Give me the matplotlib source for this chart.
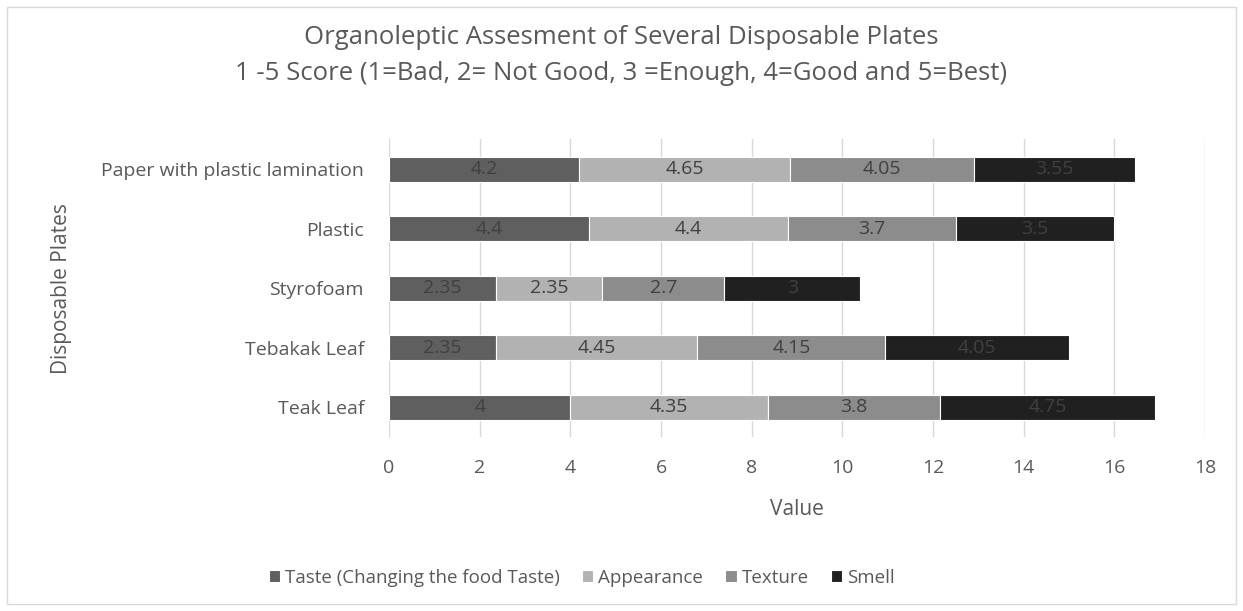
import matplotlib
matplotlib.use("Agg")
import matplotlib.pyplot as plt
from matplotlib.patches import Rectangle

categories = ["Teak Leaf", "Tebakak Leaf", "Styrofoam", "Plastic", "Paper with plastic lamination"]
series_names = ["Taste (Changing the food Taste)", "Appearance", "Texture", "Smell"]
taste = [4, 2.35, 2.35, 4.4, 4.2]
appearance = [4.35, 4.45, 2.35, 4.4, 4.65]
texture = [3.8, 4.15, 2.7, 3.7, 4.05]
smell = [4.75, 4.05, 3, 3.5, 3.55]
label_texts = {
    0: ["4", "2.35", "2.35", "4.4", "4.2"],
    1: ["4.35", "4.45", "2.35", "4.4", "4.65"],
    2: ["3.8", "4.15", "2.7", "3.7", "4.05"],
    3: ["4.75", "4.05", "3", "3.5", "3.55"],
}
colors = ["#5f5f5f", "#b2b2b2", "#8c8c8c", "#202020"]

plt.rcParams['font.family'] = ['Open Sans', 'DejaVu Sans']
fig = plt.figure(figsize=(12.43, 6.11), dpi=100)
ax = fig.add_axes([0.313, 0.2848, 0.6564, 0.4869])

series = [taste, appearance, texture, smell]
y = list(range(len(categories)))
left = [0.0] * len(categories)
for i, vals in enumerate(series):
    bars = ax.barh(y, vals, left=left, height=0.42, color=colors[i],
                   edgecolor="white", linewidth=0.8, label=series_names[i], zorder=3)
    for j, b in enumerate(bars):
        ax.text(left[j] + vals[j] / 2, y[j], label_texts[i][j], ha="center", va="center",
                fontsize=14, color="#404040", zorder=4)
    left = [l + v for l, v in zip(left, vals)]

ax.set_xlim(0, 18)
ax.set_ylim(-0.5, len(categories) - 0.5)
ax.set_xticks(range(0, 19, 2))
ax.set_yticks(y)
ax.set_yticklabels(categories)
ax.tick_params(axis="both", length=0, labelsize=14, labelcolor="#595959")
ax.tick_params(axis="x", pad=16)
ax.tick_params(axis="y", pad=18)
ax.grid(axis="x", color="#d9d9d9", linewidth=1, zorder=0)
for s in ax.spines.values():
    s.set_visible(False)

ax.set_xlabel("Value", fontsize=15, color="#595959")
ax.xaxis.set_label_coords(0.5, -0.208)
ax.set_ylabel("Disposable Plates", fontsize=15, color="#595959")
ax.yaxis.set_label_coords(-0.388, 0.5)

fig.text(0.5, 0.9394, "Organoleptic Assesment of Several Disposable Plates", ha="center", va="center",
         fontsize=18.5, color="#595959")
fig.text(0.5, 0.879, "1 -5 Score (1=Bad, 2= Not Good, 3 =Enough, 4=Good and 5=Best)", ha="center", va="center",
         fontsize=18.5, color="#595959")

handles, labels = ax.get_legend_handles_labels()
leg = fig.legend(handles, labels, loc="center", bbox_to_anchor=(0.468, 0.054), ncol=4, frameon=False,
                 fontsize=13.5, handlelength=0.6, handleheight=0.6, handletextpad=0.25, columnspacing=1.2)
for t in leg.get_texts():
    t.set_color("#595959")

fig.patches.append(Rectangle((0.006, 0.011), 0.988, 0.978, transform=fig.transFigure,
                             fill=False, edgecolor="#d9d9d9", linewidth=1))

fig.savefig("out.png", dpi=100)
